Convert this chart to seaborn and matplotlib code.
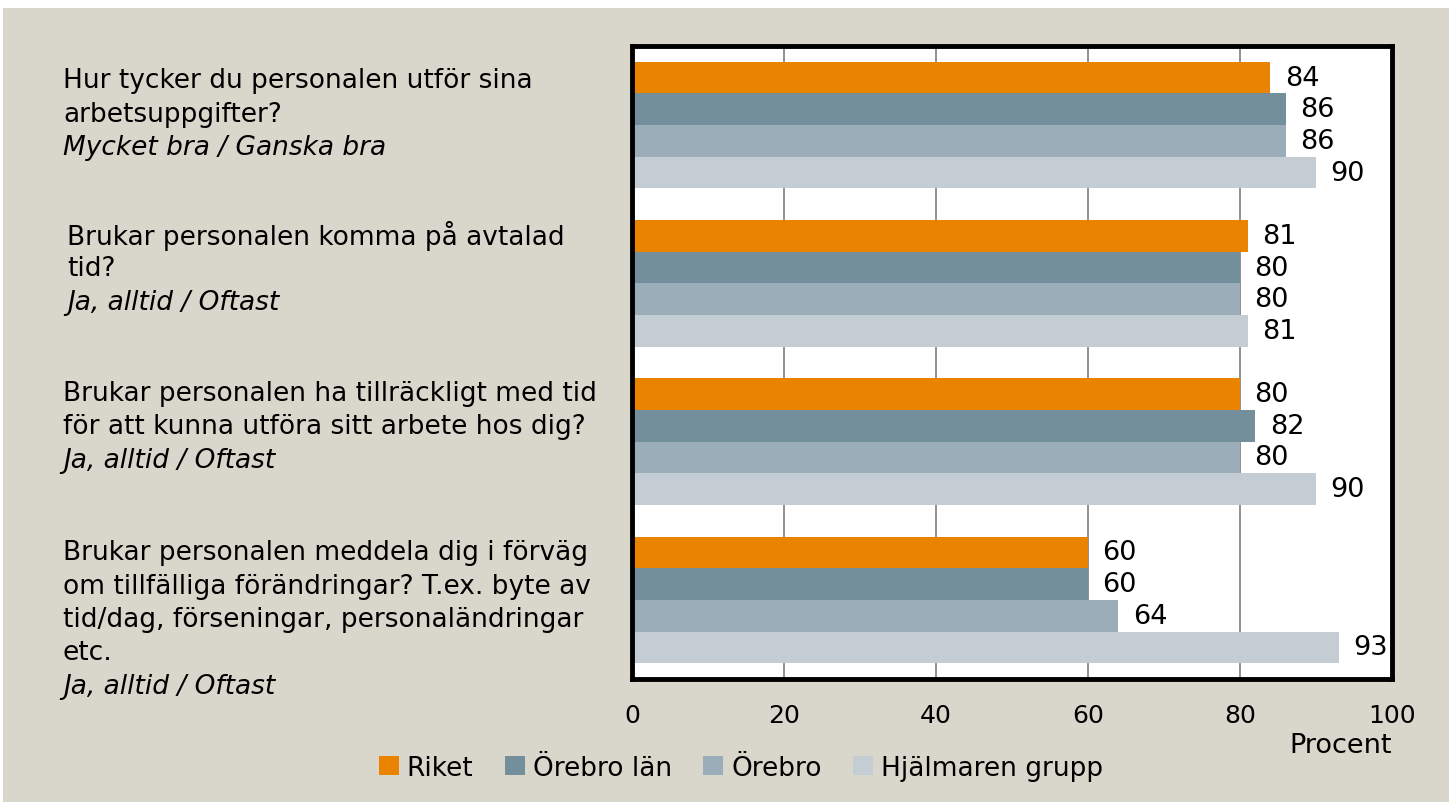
import matplotlib
matplotlib.use("Agg")
import matplotlib.pyplot as plt
import seaborn as sns
import pandas as pd
from matplotlib.patches import Rectangle, Patch

questions = ["Q1", "Q2", "Q3", "Q4"]
series = ["Riket", "Örebro län", "Örebro", "Hjälmaren grupp"]
riket = [84, 81, 80, 60]
orebro_lan = [86, 80, 82, 60]
orebro = [86, 80, 80, 64]
hjalmaren = [90, 81, 90, 93]
colors = ["#E98300", "#738F9C", "#9AADB8", "#C3CDD3"]
xticks = [0, 20, 40, 60, 80, 100]

label_lines = [
    [("Hur tycker du personalen utför sina", "normal"), ("arbetsuppgifter?", "normal"), ("Mycket bra / Ganska bra", "italic")],
    [("Brukar personalen komma på avtalad", "normal"), ("tid?", "normal"), ("Ja, alltid / Oftast", "italic")],
    [("Brukar personalen ha tillräckligt med tid", "normal"), ("för att kunna utföra sitt arbete hos dig?", "normal"), ("Ja, alltid / Oftast", "italic")],
    [("Brukar personalen meddela dig i förväg", "normal"), ("om tillfälliga förändringar? T.ex. byte av", "normal"),
     ("tid/dag, förseningar, personaländringar", "normal"), ("etc.", "normal"), ("Ja, alltid / Oftast", "italic")],
]

rows = []
for s, vals in zip(series, [riket, orebro_lan, orebro, hjalmaren]):
    for q, v in zip(questions, vals):
        rows.append({"q": q, "serie": s, "v": v})
df = pd.DataFrame(rows)

sns.set_style("white")
plt.rcParams["font.family"] = ["DejaVu Sans"]
plt.rcParams["text.color"] = "black"
plt.rcParams["xtick.color"] = "black"

W, H = 1449, 803
fig = plt.figure(figsize=(W / 100, H / 100), dpi=100, facecolor="white")
fig.patches.append(Rectangle((3 / W, 0), 1, 1 - 9 / H, transform=fig.transFigure,
                             facecolor="#D9D7CB", edgecolor="none", zorder=-10))

L, R, T, B = 632, 1392, 47, 680
ax = fig.add_axes([L / W, 1 - B / H, (R - L) / W, (B - T) / H])
ax.set_facecolor("white")

sns.barplot(data=df, y="q", x="v", hue="serie", order=questions, hue_order=series,
            palette=colors, orient="h", width=0.8, ax=ax, legend=False,
            saturation=1, edgecolor="none")
ax.set_xlim(0, 100)
ax.set_ylim(3.5, -0.5)
ax.set_xticks(xticks)
ax.set_xticklabels([str(t) for t in xticks], fontsize=18)
ax.tick_params(axis="x", length=0, pad=17, colors="black")
ax.set_yticks([])
ax.set_xlabel("")
ax.set_ylabel("")
ax.grid(axis="x", color="#888888", linewidth=1.3)
ax.set_axisbelow(True)
for sp in ax.spines.values():
    sp.set_linewidth(3.5)
    sp.set_color("black")

for cont in ax.containers:
    for bar in cont:
        w = bar.get_width()
        ax.text(w + 1.9, bar.get_y() + bar.get_height() / 2, f"{w:.0f}",
                va="center", ha="left", fontsize=19.5, color="black")

# question labels
starts = [81, 236, 394, 553]
xs = [63, 67, 63, 63]
for lines, y0, x0 in zip(label_lines, starts, xs):
    for i, (txt, style) in enumerate(lines):
        y = y0 + i * 33.5
        fig.text(x0 / W, 1 - y / H, txt, fontsize=19, style=style, va="center", ha="left",
                 color="black")

fig.text(1341 / W, 1 - 746 / H, "Procent", fontsize=19.5, ha="center", va="center", color="black")

handles = [Patch(facecolor=c, edgecolor="none") for c in colors]
leg = fig.legend(handles, series, loc="center", bbox_to_anchor=(741 / W, 1 - 769 / H), ncol=4,
                 frameon=False, fontsize=19, handlelength=0.75, handleheight=0.75,
                 handletextpad=0.3, columnspacing=1.2)
for t in leg.get_texts():
    t.set_color("black")

fig.savefig("out.png", dpi=100, facecolor=fig.get_facecolor())
